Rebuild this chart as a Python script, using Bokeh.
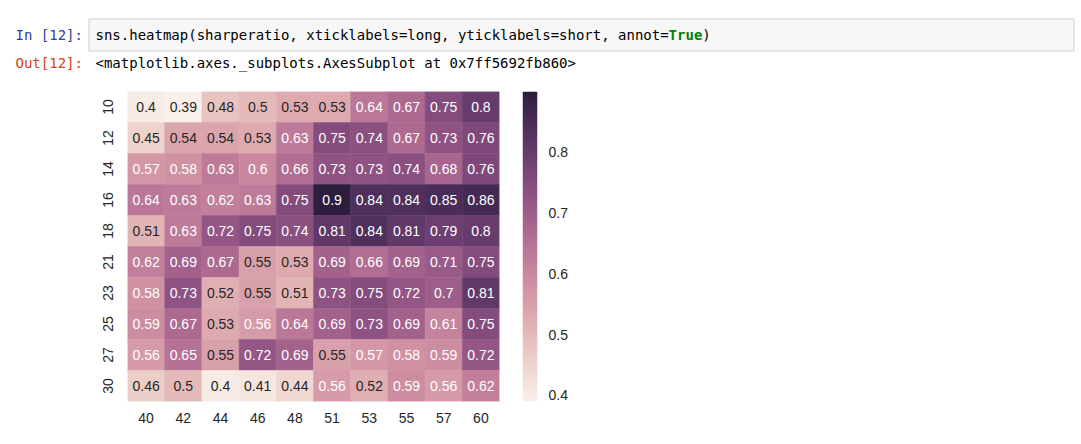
import numpy as np
from bokeh.plotting import figure
from bokeh.models import FactorRange, Range1d, ColumnDataSource, LinearColorMapper, FixedTicker
from bokeh.layouts import column, row
from bokeh.embed import file_html
from bokeh.resources import INLINE
from bokeh.core.properties import value

# ---- data ----
long_labels = ["40", "42", "44", "46", "48", "51", "53", "55", "57", "60"]
short_labels = ["10", "12", "14", "16", "18", "21", "23", "25", "27", "30"]
row_10 = [0.40, 0.39, 0.48, 0.50, 0.53, 0.53, 0.64, 0.67, 0.75, 0.80]
row_12 = [0.45, 0.54, 0.54, 0.53, 0.63, 0.75, 0.74, 0.67, 0.73, 0.76]
row_14 = [0.57, 0.58, 0.63, 0.60, 0.66, 0.73, 0.73, 0.74, 0.68, 0.76]
row_16 = [0.64, 0.63, 0.62, 0.63, 0.75, 0.90, 0.84, 0.84, 0.85, 0.86]
row_18 = [0.51, 0.63, 0.72, 0.75, 0.74, 0.81, 0.84, 0.81, 0.79, 0.80]
row_21 = [0.62, 0.69, 0.67, 0.55, 0.53, 0.69, 0.66, 0.69, 0.71, 0.75]
row_23 = [0.58, 0.73, 0.52, 0.55, 0.51, 0.73, 0.75, 0.72, 0.70, 0.81]
row_25 = [0.59, 0.67, 0.53, 0.56, 0.64, 0.69, 0.73, 0.69, 0.61, 0.75]
row_27 = [0.56, 0.65, 0.55, 0.72, 0.69, 0.55, 0.57, 0.58, 0.59, 0.72]
row_30 = [0.46, 0.50, 0.40, 0.41, 0.44, 0.56, 0.52, 0.59, 0.56, 0.62]
sharpe = [row_10, row_12, row_14, row_16, row_18, row_21, row_23, row_25, row_27, row_30]
cbar_ticks = [0.4, 0.5, 0.6, 0.7, 0.8]

code_text = "sns.heatmap(sharperatio, xticklabels=long, yticklabels=short, annot="
code_kw = "True"
code_end = ")"
in_prompt = "In [12]:"
out_prompt = "Out[12]:"
out_text = "<matplotlib.axes._subplots.AxesSubplot at 0x7ff5692fb860>"

vmin = min(min(r) for r in sharpe)
vmax = max(max(r) for r in sharpe)


# ---- seaborn-like cubehelix palette ----
def cubehelix(n=256, start=0.0, rot=0.4, gamma=1.0, hue=0.8, light=0.95, dark=0.15):
    x = np.linspace(light, dark, n)
    xg = x ** gamma
    a = hue * xg * (1 - xg) / 2
    phi = 2 * np.pi * (start / 3 + rot * x)
    r = xg + a * (-0.14861 * np.cos(phi) + 1.78277 * np.sin(phi))
    g = xg + a * (-0.29227 * np.cos(phi) - 0.90649 * np.sin(phi))
    b = xg + a * (1.97294 * np.cos(phi))
    rgb = np.clip(np.stack([r, g, b], axis=1), 0, 1)
    return rgb


pal_rgb = cubehelix()
palette = ["#%02x%02x%02x" % tuple(int(round(c * 255)) for c in col) for col in pal_rgb]
mapper = LinearColorMapper(palette=palette, low=vmin, high=vmax)


def lum(c):
    c = np.where(c <= 0.03928, c / 12.92, ((c + 0.055) / 1.055) ** 2.4)
    return 0.2126 * c[0] + 0.7152 * c[1] + 0.0722 * c[2]


xs, ys, vs, txt, tcol = [], [], [], [], []
for i, s in enumerate(short_labels):
    for j, l in enumerate(long_labels):
        v = sharpe[i][j]
        xs.append(l)
        ys.append(s)
        vs.append(v)
        txt.append("{:.2g}".format(v))
        idx = int(np.floor((v - vmin) / (vmax - vmin) * len(palette)))
        idx = min(max(idx, 0), len(palette) - 1)
        tcol.append("#262626" if lum(pal_rgb[idx]) > 0.408 else "#ffffff")

src = ColumnDataSource(dict(x=xs, y=ys, v=vs, t=txt, tc=tcol))

FONT = "Liberation Sans"
MONO = "DejaVu Sans Mono"
TXT = "#262626"
FS = "14px"

# ---- notebook header ----
top = figure(width=1081, height=80, x_range=Range1d(0, 1081), y_range=Range1d(80, 0),
             output_backend="svg", toolbar_location=None,
             x_axis_location=None, y_axis_location=None,
             min_border_left=0, min_border_right=0, min_border_top=0, min_border_bottom=0)
top.outline_line_color = None
top.grid.visible = False
top.quad(left=[88.5], right=[1073.5], top=[18.5], bottom=[50.5],
         fill_color="#f7f7f7", line_color="#cfcfcf", line_width=1)
cw = 14 * 0.602
top.text(x=[15], y=[34], text=[in_prompt], text_color="#303f9f", text_font=value(MONO),
         text_font_size="14px", text_baseline="middle")
top.text(x=[95], y=[34], text=[code_text], text_color="#000000", text_font=value(MONO),
         text_font_size="14px", text_baseline="middle")
top.text(x=[95 + cw * len(code_text)], y=[34], text=[code_kw], text_color="#008000",
         text_font=value(MONO), text_font_size="14px", text_font_style="bold",
         text_baseline="middle")
top.text(x=[95 + cw * (len(code_text) + len(code_kw))], y=[34], text=[code_end],
         text_color="#000000", text_font=value(MONO), text_font_size="14px",
         text_baseline="middle")
top.text(x=[15], y=[62], text=[out_prompt], text_color="#d84315", text_font=value(MONO),
         text_font_size="14px", text_baseline="middle")
top.text(x=[95], y=[62], text=[out_text], text_color="#000000", text_font=value(MONO),
         text_font_size="14px", text_baseline="middle")

# ---- heatmap ----
heat = figure(width=522, height=364, x_range=FactorRange(*long_labels),
              y_range=FactorRange(*short_labels[::-1]),
              output_backend="svg", toolbar_location=None,
              min_border_left=127, min_border_right=23, min_border_top=11, min_border_bottom=43)
heat.outline_line_color = None
heat.grid.visible = False
heat.rect(x="x", y="y", width=1, height=1, source=src,
          fill_color={"field": "v", "transform": mapper},
          line_color={"field": "v", "transform": mapper}, line_width=0.5)
heat.text(x="x", y="y", text="t", text_color="tc", source=src, text_align="center",
          text_baseline="middle", text_font=value(FONT), text_font_size=FS)
for ax in (heat.xaxis, heat.yaxis):
    ax.axis_line_color = None
    ax.major_tick_line_color = None
    ax.minor_tick_line_color = None
    ax.major_label_text_font = FONT
    ax.major_label_text_font_size = FS
    ax.major_label_text_color = TXT
heat.xaxis.major_label_standoff = 5
heat.yaxis.major_label_standoff = 9
heat.yaxis.major_label_orientation = "vertical"

# ---- colorbar ----
cbar = figure(width=559, height=364, x_range=Range1d(0, 1), y_range=Range1d(vmin, vmax),
              output_backend="svg", toolbar_location=None,
              x_axis_location=None, y_axis_location="right",
              min_border_left=0, min_border_right=544, min_border_top=11, min_border_bottom=43)
cbar.outline_line_color = None
cbar.grid.visible = False
grad = np.linspace(vmin, vmax, 256).reshape(256, 1)
cbar.image(image=[grad], x=0, y=vmin, dw=1, dh=vmax - vmin, color_mapper=mapper)
cbar.yaxis.ticker = FixedTicker(ticks=cbar_ticks)
cbar.yaxis.axis_line_color = None
cbar.yaxis.major_tick_line_color = None
cbar.yaxis.minor_tick_line_color = None
cbar.yaxis.major_label_text_font = FONT
cbar.yaxis.major_label_text_font_size = FS
cbar.yaxis.major_label_text_color = TXT
cbar.yaxis.major_label_standoff = 5

layout = column(top, row(heat, cbar))
open("out.html", "w").write(file_html(layout, INLINE))
